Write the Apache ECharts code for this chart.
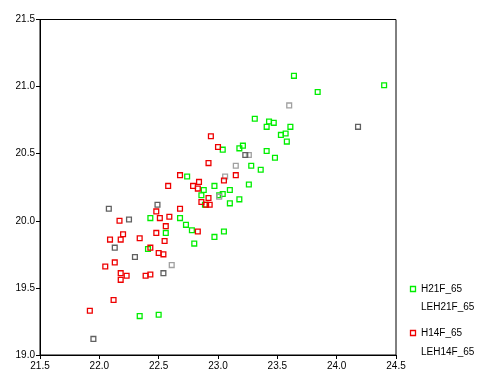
<!DOCTYPE html>
<html><head><meta charset="utf-8">
<script src="https://cdn.jsdelivr.net/npm/echarts@6/dist/echarts.min.js"></script>
<style>html,body{margin:0;padding:0;background:#fff}#c{width:480px;height:384px}</style>
</head><body><div id="c"></div>
<script>
const seriesNames = ['H21F_65', 'LEH21F_65', 'H14F_65', 'LEH14F_65'];
const xTicks = [21.5, 22.0, 22.5, 23.0, 23.5, 24.0, 24.5];
const yTicks = [19.0, 19.5, 20.0, 20.5, 21.0, 21.5];

const h21x = [23.64,23.84,24.40,23.31,23.43,23.47,23.41,23.61,23.53,23.57,23.58,23.04,23.18,23.21,23.41,23.48,23.28,23.36,22.74,22.97,23.26,23.10,22.88,23.04,22.86,23.01,23.18,23.10,22.89,22.68,22.73,22.78,23.05,22.97,22.80,22.43,22.56,22.41,22.34,22.50];
const h21y = [21.08,20.96,21.01,20.76,20.74,20.73,20.70,20.70,20.64,20.65,20.59,20.53,20.54,20.56,20.52,20.47,20.41,20.38,20.33,20.26,20.27,20.23,20.23,20.20,20.19,20.19,20.16,20.13,20.12,20.02,19.97,19.93,19.92,19.88,19.83,20.02,19.91,19.79,19.29,19.30];

const leh21x = [23.60,22.61,23.15,23.26,23.06,23.01];
const leh21y = [20.86,19.67,20.41,20.49,20.33,20.18];

const h14x = [22.94,23.00,22.92,22.68,23.15,23.05,22.84,22.79,22.83,22.92,22.86,22.90,22.93,22.68,22.83,22.58,22.48,22.17,22.51,22.59,22.56,22.20,22.48,22.09,22.18,22.34,22.55,22.43,22.50,22.13,22.05,22.18,22.43,22.23,22.39,22.18,22.12,21.92,22.54];
const h14y = [20.63,20.55,20.43,20.34,20.34,20.30,20.29,20.26,20.24,20.17,20.14,20.12,20.12,20.09,19.92,20.26,20.07,20.00,20.02,20.03,19.96,19.90,19.91,19.86,19.86,19.87,19.85,19.80,19.76,19.69,19.66,19.61,19.60,19.59,19.59,19.56,19.41,19.33,19.75];

const leh14x = [24.18,22.08,21.95,22.25,22.54,22.30,22.13,22.49,23.23];
const leh14y = [20.70,20.09,19.12,20.01,19.61,19.73,19.80,20.12,20.49];

const colors = ['#00ee00', '#a0a0a0', '#ee0000', '#606060'];
const FONT = '"Liberation Sans", Arial, sans-serif';

function pts(xs, ys) { return xs.map((x, i) => [x, ys[i]]); }
const datasets = [pts(h21x, h21y), pts(leh21x, leh21y), pts(h14x, h14y), pts(leh14x, leh14y)];

const chart = echarts.init(document.getElementById('c'), null, {renderer: 'canvas'});
chart.setOption({
  animation: false,
  backgroundColor: '#fff',
  grid: {left: 40, right: 84, top: 19.5, bottom: 29, show: true, borderColor: '#000', borderWidth: 1, backgroundColor: 'transparent'},
  xAxis: {
    type: 'value', min: 21.5, max: 24.5, interval: 0.5,
    axisLine: {lineStyle: {color: '#000', width: 1}},
    axisTick: {length: 4, lineStyle: {color: '#000'}},
    splitLine: {show: false},
    axisLabel: {color: '#000', fontFamily: FONT, fontSize: 10, margin: 6,
      formatter: v => xTicks.find(t => Math.abs(t - v) < 1e-6).toFixed(1)}
  },
  yAxis: {
    type: 'value', min: 19, max: 21.5, interval: 0.5,
    axisLine: {lineStyle: {color: '#000', width: 1}},
    axisTick: {length: 4, lineStyle: {color: '#000'}},
    splitLine: {show: false},
    axisLabel: {color: '#000', fontFamily: FONT, fontSize: 10, margin: 5,
      formatter: v => yTicks.find(t => Math.abs(t - v) < 1e-6).toFixed(1)}
  },
  series: datasets.map((d, i) => ({
    name: seriesNames[i], type: 'scatter', data: d,
    symbol: 'rect', symbolSize: 4.8,
    itemStyle: {color: 'rgba(255,255,255,0)', borderColor: colors[i], borderWidth: 1.3, opacity: 1}
  })),
  graphic: [
    {type: 'rect', left: 408, top: 284, shape: {width: 5, height: 5}, style: {fill: 'none', stroke: colors[0], lineWidth: 1.3}},
    {type: 'text', left: 421, top: 284, style: {text: seriesNames[0], font: '10px ' + FONT, fill: '#000'}},
    {type: 'text', left: 421, top: 302, style: {text: seriesNames[1], font: '10px ' + FONT, fill: '#000'}},
    {type: 'rect', left: 408, top: 328, shape: {width: 5, height: 5}, style: {fill: 'none', stroke: colors[2], lineWidth: 1.3}},
    {type: 'text', left: 421, top: 328, style: {text: seriesNames[2], font: '10px ' + FONT, fill: '#000'}},
    {type: 'text', left: 421, top: 347, style: {text: seriesNames[3], font: '10px ' + FONT, fill: '#000'}}
  ]
});
</script></body></html>
